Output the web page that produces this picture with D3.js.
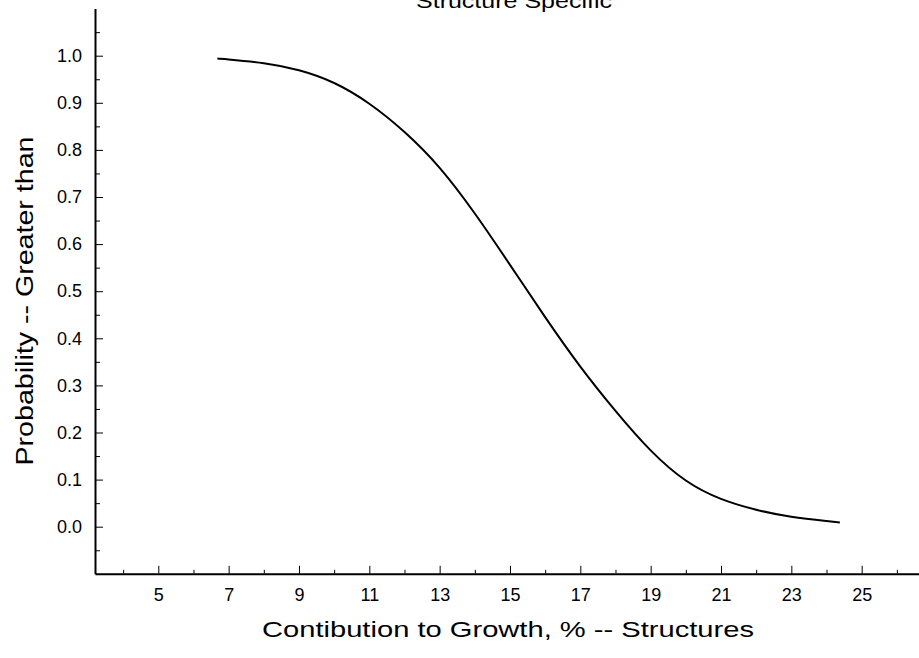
<!DOCTYPE html>
<html>
<head>
<meta charset="utf-8">
<script src="https://cdn.jsdelivr.net/npm/d3@7"></script>
<style>
  body { margin: 0; background: #fff; }
  svg { display: block; font-family: "Liberation Sans", Arial, sans-serif; }
  .axis text { font-size: 18px; fill: #000; }
  .axis path, .axis line { stroke: #000; }
</style>
</head>
<body>
<div class="chart"></div>
<script>
// curve
const growth = [6.68, 7, 8, 9, 10, 11, 12, 13, 14, 15, 16, 17, 18, 19, 20, 21, 22, 23, 24, 24.38];
const probability = [0.994, 0.992, 0.984, 0.969, 0.942, 0.898, 0.838, 0.762, 0.665, 0.556, 0.445, 0.340, 0.246, 0.162, 0.098, 0.059, 0.036, 0.021, 0.012, 0.009];

// ticks
const xMajor = [5, 7, 9, 11, 13, 15, 17, 19, 21, 23, 25];
const xMinor = [4, 6, 8, 10, 12, 14, 16, 18, 20, 22, 24, 26];
const yMajor = [0.0, 0.1, 0.2, 0.3, 0.4, 0.5, 0.6, 0.7, 0.8, 0.9, 1.0];
const yMinor = [-0.05, 0.05, 0.15, 0.25, 0.35, 0.45, 0.55, 0.65, 0.75, 0.85, 0.95, 1.05];

const chartTitle = 'Structure Specific';
const xTitle = 'Contibution to Growth, % -- Structures';
const yTitle = 'Probability -- Greater than';

const svg_width = 919;
const svg_height = 658;

const svg = d3.select('.chart').append('svg')
    .attr('width', svg_width).attr('height', svg_height);

const xScale = d3.scaleLinear().domain([3.2, 26.63]).range([95, 919]);
const yScale = d3.scaleLinear().domain([-0.1, 1.1]).range([573.8, 8.6]);

// title (its top is cut off in the original too)
svg.append('text')
    .attr('x', 514).attr('y', 8)
    .attr('text-anchor', 'middle')
    .attr('textLength', 196)
    .attr('lengthAdjust', 'spacingAndGlyphs')
    .style('font-size', '20px')
    .text(chartTitle);

// minor ticks first, then the major axes on top
svg.append('g').attr('class', 'axis')
    .attr('transform', `translate(0,${yScale(-0.1)})`)
    .call(d3.axisBottom(xScale).tickValues(xMinor).tickSizeInner(-4).tickSizeOuter(0).tickFormat(''))
    .call(g => g.select('.domain').remove());
svg.append('g').attr('class', 'axis')
    .attr('transform', `translate(${xScale(3.2)},0)`)
    .call(d3.axisLeft(yScale).tickValues(yMinor).tickSizeInner(-5).tickSizeOuter(0).tickFormat(''))
    .call(g => g.select('.domain').remove());

const xAxis = d3.axisBottom(xScale)
    .tickValues(xMajor)
    .tickSizeInner(-8)
    .tickSizeOuter(0)
    .tickPadding(14)
    .tickFormat(d3.format('d'));
const xAxisDraw = svg.append('g').attr('class', 'x axis')
    .attr('transform', `translate(0,${yScale(-0.1)})`)
    .call(xAxis);
xAxisDraw.select('.domain').attr('stroke-width', 2);

const yAxis = d3.axisLeft(yScale)
    .tickValues(yMajor)
    .tickSizeInner(-8)
    .tickSizeOuter(0)
    .tickPadding(13)
    .tickFormat(d3.format('.1f'));
const yAxisDraw = svg.append('g').attr('class', 'y axis')
    .attr('transform', `translate(${xScale(3.2)},0)`)
    .call(yAxis);
yAxisDraw.select('.domain').attr('stroke-width', 2);

// curve
const points = growth.map((g, i) => ({ x: g, y: probability[i] }));
const line = d3.line()
    .x(d => xScale(d.x))
    .y(d => yScale(d.y))
    .curve(d3.curveNatural);
svg.append('path')
    .datum(points)
    .attr('d', line)
    .attr('fill', 'none')
    .attr('stroke', '#000')
    .attr('stroke-width', 2);

// axis titles (the scan stretches them sideways)
svg.append('text')
    .attr('x', 508).attr('y', 637)
    .attr('text-anchor', 'middle')
    .attr('textLength', 492)
    .attr('lengthAdjust', 'spacingAndGlyphs')
    .style('font-size', '22px')
    .text(xTitle);
svg.append('text')
    .attr('transform', 'translate(33,301) rotate(-90)')
    .attr('text-anchor', 'middle')
    .attr('textLength', 329)
    .attr('lengthAdjust', 'spacingAndGlyphs')
    .style('font-size', '23px')
    .text(yTitle);
</script>
</body>
</html>
